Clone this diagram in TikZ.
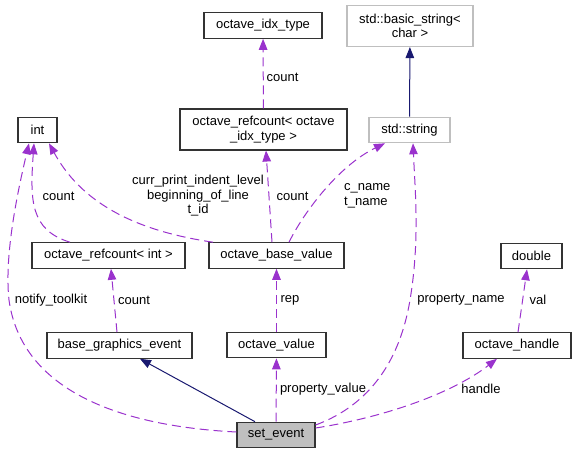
\documentclass[tikz,border=0pt]{standalone}
\usepackage{fontspec}
\setmainfont{Liberation Sans}
\usetikzlibrary{arrows.meta}
\definecolor{edgepurple}{HTML}{9A32CD}
\definecolor{edgenavy}{HTML}{191970}
\definecolor{extgray}{HTML}{BFBFBF}

\begin{document}
\begin{tikzpicture}[x=1pt, y=-1pt, >={Triangle[length=11pt,width=8.5pt]},
    font=\fontsize{13}{14.5}\selectfont,
    cls/.style={draw=black!80, line width=1.1pt, rectangle, inner sep=0pt,
                minimum height=25.5pt, align=center},
    ext/.style={cls, draw=extgray},
    dep/.style={->, draw=edgepurple, line width=1pt, dash pattern=on 9pt off 5pt},
    inh/.style={->, draw=edgenavy, line width=1pt},
    lbl/.style={inner sep=0pt, align=center}]
    \useasboundingbox (0,0) rectangle (575,453);

    % classes
    \node[cls, minimum width=118pt] (idx) at (263,25.5) {octave\_idx\_type};
    \node[ext, minimum width=126pt, minimum height=41pt] (bstr) at (410,26) {std::basic\_string<\\char >};
    \node[cls, minimum width=39pt] (int) at (37.5,130) {int};
    \node[cls, minimum width=167pt, minimum height=41pt] (rcidx) at (263.5,129.5) {octave\_refcount< octave\\\_idx\_type >};
    \node[ext, minimum width=81pt] (str) at (409.5,130) {std::string};
    \node[cls, minimum width=153pt] (rcint) at (108.5,255.5) {octave\_refcount< int >};
    \node[cls, minimum width=135pt] (base) at (276.5,255.5) {octave\_base\_value};
    \node[cls, minimum width=61pt] (dbl) at (531.5,256) {double};
    \node[cls, minimum width=145pt] (bge) at (119.5,345.5) {base\_graphics\_event};
    \node[cls, minimum width=99pt] (octval) at (276.5,345) {octave\_value};
    \node[cls, minimum width=108pt] (oh) at (517,345.5) {octave\_handle};
    \node[cls, minimum width=78pt, fill=extgray] (set) at (276,435) {set\_event};

    % members
    \draw[dep] (rcidx) -- (idx);
    \draw[inh] (str) -- (bstr);
    \draw[dep] ([xshift=-38.5pt]rcint.north) .. controls (30,230) and (30,200) .. ([xshift=-3.5pt]int.south);
    \draw[dep] ([xshift=-63.5pt]base.north) .. controls (130,230) and (80,200) .. ([xshift=11.5pt]int.south);
    \draw[dep] ([xshift=-4.5pt]base.north) -- ([xshift=2.5pt]rcidx.south);
    \draw[dep] ([xshift=12.5pt]base.north) .. controls (305,210) and (340,165) .. ([xshift=-24.5pt]str.south);
    \draw[dep] ([yshift=10pt]set.east) .. controls (370,405) and (400,360) .. (410,300)
        .. controls (420,240) and (415,190) .. ([xshift=3.5pt]str.south);
    \draw[dep] ([yshift=3pt]set.west) .. controls (100,425) and (20,380) .. (9,300)
        .. controls (4,255) and (18,190) .. ([xshift=-8.5pt]int.south);
    \draw[dep] ([xshift=-2.5pt]bge.north) -- ([xshift=2.5pt]rcint.south);
    \draw[dep] (octval) -- (base);
    \draw[dep] ([xshift=1pt]oh.north) -- ([xshift=-4.5pt]dbl.south);
    \draw[inh] ([xshift=-21pt]set.north) -- ([xshift=20.5pt]bge.south);
    \draw[dep] (set) -- (octval);
    \draw[dep] ([yshift=7pt]set.east) .. controls (380,418) and (450,395) .. ([xshift=-20pt]oh.south);

    % labels
    \node[lbl] (l-idx) at (282.5,77) {count};
    \node[lbl] (l-int) at (198,196) {curr\_print\_indent\_level\\beginning\_of\_line\\t\_id};
    \node[lbl] (l-rcint) at (58.5,196) {count};
    \node[lbl] (l-rcidx) at (292.5,196) {count};
    \node[lbl, align=left, anchor=west] (l-str) at (344,196) {c\_name\\t\_name};
    \node[lbl] (l-notify) at (51,300) {notify\_toolkit};
    \node[lbl] (l-bge) at (134,300) {count};
    \node[lbl] (l-rep) at (290,300) {rep};
    \node[lbl] (l-pname) at (461,300) {property\_name};
    \node[lbl] (l-val) at (538,300) {val};
    \node[lbl] (l-pval) at (323,389) {property\_value};
    \node[lbl] (l-handle) at (481,389) {handle};
\end{tikzpicture}
\end{document}
